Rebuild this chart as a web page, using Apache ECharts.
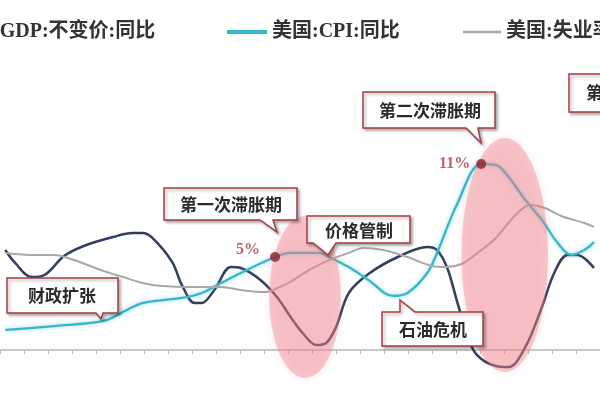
<!DOCTYPE html>
<html><head><meta charset="utf-8">
<script src="https://cdn.jsdelivr.net/npm/echarts@6/dist/echarts.min.js"></script>
<style>html,body{margin:0;padding:0;background:#fff}#c{width:600px;height:400px}</style>
</head><body><div id="c"></div>
<script>
// Series names (legend)
const seriesNames = ['美国:GDP:不变价:同比', '美国:CPI:同比', '美国:失业率'];

// x = period index (one axis tick per period), y = percent (schematic)
const gdp = [[-0.78,5.88],[-0.37,5.12],[0.32,4.29],[0.85,4.41],[1.67,5.53],[2.49,6.12],[3.72,6.65],[4.53,6.88],[4.94,6.88],[5.35,6.59],[6.17,5.18],[6.58,3.82],[7.11,2.76],[7.40,2.76],[7.93,3.53],[8.62,4.88],[9.03,4.82],[9.85,4.12],[10.54,3.12],[11.08,2.00],[11.61,1.00],[12.18,0.29],[12.59,0.41],[13.00,1.35],[13.53,3.35],[14.35,4.47],[15.57,5.47],[16.80,6.06],[17.21,5.88],[17.62,4.88],[18.03,2.94],[18.44,1.00],[18.84,-0.24],[19.66,-0.94],[20.19,-1.00],[20.89,0.18],[21.58,2.53],[22.11,4.59],[22.65,5.59],[23.06,5.59],[23.75,4.82]];

const cpi = [[-0.78,1.18],[1.26,1.41],[3.31,1.71],[4.13,2.24],[4.94,2.76],[6.58,3.06],[7.40,3.35],[8.21,3.94],[9.03,4.53],[10.46,5.47],[11.08,5.71],[12.30,5.71],[12.71,5.47],[13.53,4.88],[14.35,4.12],[15.37,3.18],[15.98,3.35],[16.80,4.53],[17.21,5.71],[18.03,8.53],[19.05,10.94],[19.66,10.88],[20.19,10.18],[20.89,8.82],[21.58,7.65],[22.24,6.29],[22.81,5.59],[23.34,5.88],[23.75,6.35]];

const unemployment = [[-0.78,5.71],[0.45,5.59],[1.26,5.59],[2.08,5.29],[3.31,4.65],[4.13,4.29],[4.94,3.94],[5.76,3.76],[6.98,3.71],[8.21,3.71],[9.03,3.53],[10.05,3.41],[10.67,3.71],[11.08,4.00],[11.89,4.71],[12.71,5.29],[13.53,5.71],[14.14,6.00],[14.96,5.88],[15.98,5.47],[17.00,4.94],[17.62,4.88],[18.23,5.06],[18.84,5.65],[19.66,6.59],[20.48,7.94],[21.09,8.53],[21.70,8.35],[22.39,7.88],[23.34,7.47],[23.75,7.24]];

// CPI peaks marked with dots
const peaks = [[10.46,5.47],[19.05,10.94]];
const peakLabels = ['5%', '11%'];

// Highlighted episodes (x range, y range in data units)
const episodes = [{x:[10.22,13.20], y:[-1.65,7.88]}, {x:[18.23,21.83], y:[-1.29,12.47]}];

// Annotation texts
const calloutTexts = ['财政扩张', '第一次滞胀期', '价格管制', '第二次滞胀期', '石油危机', '第三次滞胀期'];

const legendFont = {fontSize: 20, fontWeight: 'bold', color: '#333', fontFamily: '"Liberation Serif", "Noto Sans CJK SC"'};
const legendLefts = [-97, 222, 458];
const legendWidths = [40, 40, 38];
const legendHeights = [3, 4, 2.5];

const option = {
  animation: false,
  backgroundColor: '#fff',
  grid: {left: -5.36, right: -6.14, top: 0, bottom: 0, containLabel: false},
  legend: seriesNames.map((n, i) => ({
    data: [n], left: legendLefts[i], top: 17, icon: 'rect',
    itemWidth: legendWidths[i], itemHeight: legendHeights[i],
    textStyle: legendFont, selectedMode: false
  })),
  xAxis: {
    type: 'value', min: -1, max: 24, interval: 1,
    axisLabel: {show: false}, splitLine: {show: false},
    axisTick: {show: true, length: 4, lineStyle: {color: '#b8b8b8', width: 1}},
    axisLine: {onZero: true, lineStyle: {color: '#b8b8b8', width: 1.5}}
  },
  yAxis: {type: 'value', min: -50/17, max: 350/17, show: false, splitLine: {show: false}},
  series: [
    {name: seriesNames[0], type: 'line', data: gdp, smooth: 0.35, symbol: 'none', z: 2,
     lineStyle: {color: '#333e5f', width: 2.5}, itemStyle: {color: '#333e5f'}},
    {name: seriesNames[1], type: 'line', data: cpi, smooth: 0.35, symbol: 'none', z: 2,
     lineStyle: {color: '#38b6c8', width: 2.3, shadowBlur: 4, shadowColor: 'rgba(60,190,215,0.55)'}, itemStyle: {color: '#38b6c8'}},
    {name: seriesNames[2], type: 'line', data: unemployment, smooth: 0.35, symbol: 'none', z: 2,
     lineStyle: {color: '#a8a8a8', width: 2}, itemStyle: {color: '#a8a8a8'}},
    {type: 'scatter', z: 10, symbolSize: 10, itemStyle: {color: '#8a1f2c'},
     data: peaks.map((p, i) => ({
       value: p,
       label: {show: true, position: 'left', formatter: peakLabels[i],
               distance: i === 0 ? 10 : 6, offset: i === 0 ? [0, -7] : [0, 0],
               color: '#b43a42', fontSize: 16, fontWeight: 'bold', fontFamily: '"Liberation Serif"'}
     }))}
  ]
};

const chart = echarts.init(document.getElementById('c'));
chart.setOption(option);

const toPx = p => chart.convertToPixel({gridIndex: 0}, p);
const g = [];
episodes.forEach(e => {
  const a = toPx([e.x[0], e.y[0]]), b = toPx([e.x[1], e.y[1]]);
  g.push({type: 'ellipse', z: 5, silent: true,
    shape: {cx: (a[0] + b[0]) / 2, cy: (a[1] + b[1]) / 2, rx: Math.abs(b[0] - a[0]) / 2, ry: Math.abs(b[1] - a[1]) / 2},
    style: {fill: 'rgba(238,128,138,0.40)', shadowBlur: 8, shadowColor: 'rgba(238,128,138,0.45)'}});
});

// Callout layout (pixel layout of annotation boxes)
const calloutLayout = [
  {pts: [[7,278],[118,278],[118,313],[103,313],[101,319],[96,313],[7,313]], tx: 62, ty: 296, align: 'center'},
  {pts: [[164,188],[297,188],[297,220],[273,220],[277,232],[260,220],[164,220]], tx: 231, ty: 205, align: 'center'},
  {pts: [[307,216],[410,216],[410,243],[336,243],[328,255],[313,243],[307,243]], tx: 359, ty: 231, align: 'center'},
  {pts: [[363,92],[495,92],[495,128],[478,128],[481,143],[466,128],[363,128]], tx: 430, ty: 111, align: 'center'},
  {pts: [[382,312],[400,312],[400,300],[415,312],[483,312],[483,346],[382,346]], tx: 433, ty: 330, align: 'center'},
  {pts: [[569,74],[720,74],[720,112],[569,112]], tx: 586, ty: 93, align: 'left'}
];
calloutLayout.forEach((c, i) => {
  g.push({type: 'polygon', z: 20, silent: true, shape: {points: c.pts},
    style: {fill: '#fff', stroke: '#a53c45', lineWidth: 1.5, shadowBlur: 3, shadowOffsetX: 2, shadowOffsetY: 2, shadowColor: 'rgba(0,0,0,0.3)'}});
  g.push({type: 'text', z: 21, silent: true,
    style: {text: calloutTexts[i], x: c.tx, y: c.ty, align: c.align, verticalAlign: 'middle',
            fontSize: 17, fontWeight: 'bold', fontFamily: '"Noto Sans CJK SC"', fill: '#2a2a2a'}});
});
chart.setOption({graphic: g});
</script>
</body></html>
